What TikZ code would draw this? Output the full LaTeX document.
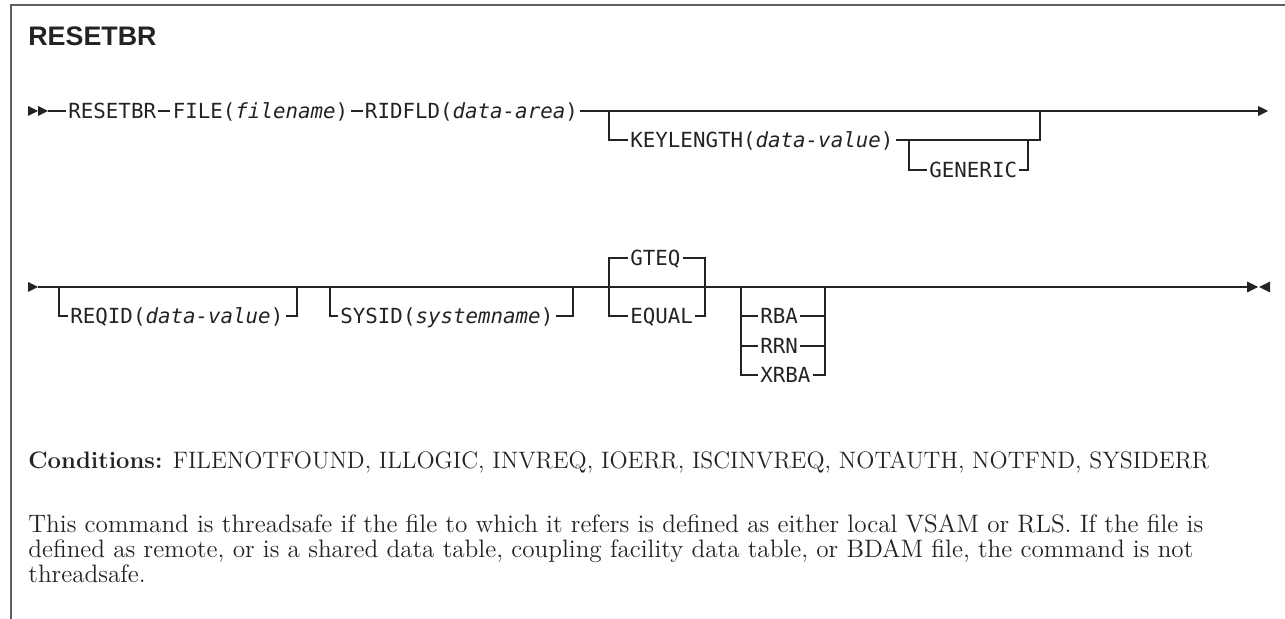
\documentclass[tikz,border=0pt]{standalone}
\usepackage{fontspec}
\newfontfamily\synfont{DejaVu Sans Mono}
\newfontfamily\headfont{Liberation Sans}
\usetikzlibrary{positioning,calc}
\definecolor{rail_color}{RGB}{35,35,35}
\definecolor{frame_color}{RGB}{95,95,95}

\begin{document}
\begin{tikzpicture}[
                x=0.5pt, y=-0.5pt,
                every node/.style={inner sep=0pt},
                kw/.style={font=\synfont\fontsize{10.4}{12}\selectfont, text=rail_color, inner xsep=1pt, text height=7.6pt, text depth=0pt, anchor=west},
                head/.style={font=\headfont\bfseries\fontsize{13.4}{15}\selectfont, text=rail_color, anchor=base west},
                body/.style={font=\fontsize{12.6}{15}\selectfont, text=rail_color, anchor=base west},
                rail/.style={draw=rail_color, line width=0.65pt},
                tip/.style={fill=rail_color}
            ]
                \useasboundingbox (0,0) rectangle (1285,619);
                
                % Page frame (top and left rule)
                \draw[frame_color, line width=1pt] (1285,5) -- (11,5) -- (11,619);
                
                % Title
                \node[head] (title) at (28,46) {RESETBR};
                
                % First rail
                \fill[tip] (28,106) -- (38,111) -- (28,116) -- cycle;
                \fill[tip] (38,106) -- (48,111) -- (38,116) -- cycle;
                \coordinate (in1) at (48,111);
                \coordinate (out1) at (1258,111);
                \node[kw] (resetbr) at (66,111) {RESETBR};
                \node[kw, right=6pt of resetbr] (file) {FILE(\textit{filename})};
                \node[kw, right=6pt of file] (ridfld) {RIDFLD(\textit{data-area})};
                \draw[rail] (in1) -- (resetbr.west);
                \draw[rail] (resetbr.east) -- (file.west);
                \draw[rail] (file.east) -- (ridfld.west);
                \draw[rail] (ridfld.east) -- (out1);
                \fill[tip] (1258,106) -- (1268,111) -- (1258,116) -- cycle;
                
                % Optional KEYLENGTH, with optional GENERIC
                \coordinate (k_in) at (609,111);
                \coordinate (k_out) at (1040,111);
                \coordinate (g_in) at (909,140);
                \coordinate (g_out) at (1028,140);
                \node[kw] (keylength) at (628,140) {KEYLENGTH(\textit{data-value})};
                \node[kw] (generic) at (927,170) {GENERIC};
                \draw[rail] (k_in) |- (keylength.west);
                \draw[rail] (keylength.east) -| (k_out);
                \draw[rail] (g_in) |- (generic.west);
                \draw[rail] (generic.east) -| (g_out);
                
                % Second rail
                \fill[tip] (28,282) -- (38,287) -- (28,292) -- cycle;
                \coordinate (in2) at (38,287);
                \coordinate (out2) at (1247,287);
                \draw[rail] (in2) -- (out2);
                \fill[tip] (1247,281.5) -- (1258,287) -- (1247,292.5) -- cycle;
                \fill[tip] (1270,281.5) -- (1259,287) -- (1270,292.5) -- cycle;
                
                % Optional REQID and SYSID
                \coordinate (q_in) at (59,287);
                \coordinate (q_out) at (297,287);
                \coordinate (s_in) at (330,287);
                \coordinate (s_out) at (573,287);
                \node[kw] (reqid) at (68,316) {REQID(\textit{data-value})};
                \node[kw] (sysid) at (338,316) {SYSID(\textit{systemname})};
                \draw[rail] (q_in) |- (reqid.west);
                \draw[rail] (reqid.east) -| (q_out);
                \draw[rail] (s_in) |- (sysid.west);
                \draw[rail] (sysid.east) -| (s_out);
                
                % GTEQ (default) or EQUAL
                \coordinate (e_in) at (609,287);
                \coordinate (e_out) at (705,287);
                \node[kw] (gteq) at (628,258) {GTEQ};
                \node[kw] (equal) at (628,316) {EQUAL};
                \draw[rail] (gteq.west) -| (e_in) |- (equal.west);
                \draw[rail] (gteq.east) -| (e_out) |- (equal.east);
                
                % Optional RBA / RRN / XRBA
                \coordinate (r_in) at (741,287);
                \coordinate (r_out) at (825,287);
                \node[kw] (rba) at (758,316) {RBA};
                \node[kw] (rrn) at (758,346) {RRN};
                \node[kw] (xrba) at (758,375) {XRBA};
                \draw[rail] (r_in) |- (xrba.west);
                \draw[rail] (rba.west -| r_in) -- (rba.west);
                \draw[rail] (rrn.west -| r_in) -- (rrn.west);
                \draw[rail] (r_out) |- (xrba.east);
                \draw[rail] (rba.east) -- (rba.east -| r_out);
                \draw[rail] (rrn.east) -- (rrn.east -| r_out);
                
                % Conditions and notes
                \node[body, font=\fontsize{11.9}{15}\selectfont] (conditions) at (28,469) {\textbf{Conditions:} FILENOTFOUND, ILLOGIC, INVREQ, IOERR, ISCINVREQ, NOTAUTH, NOTFND, SYSIDERR};
                \node[body] (note_a) at (28,533) {This command is threadsafe if the file to which it refers is defined as either local VSAM or RLS. If the file is};
                \node[body] (note_b) at (28,558) {defined as remote, or is a shared data table, coupling facility data table, or BDAM file, the command is not};
                \node[body] (note_c) at (28,583) {threadsafe.};
            \end{tikzpicture}
\end{document}
